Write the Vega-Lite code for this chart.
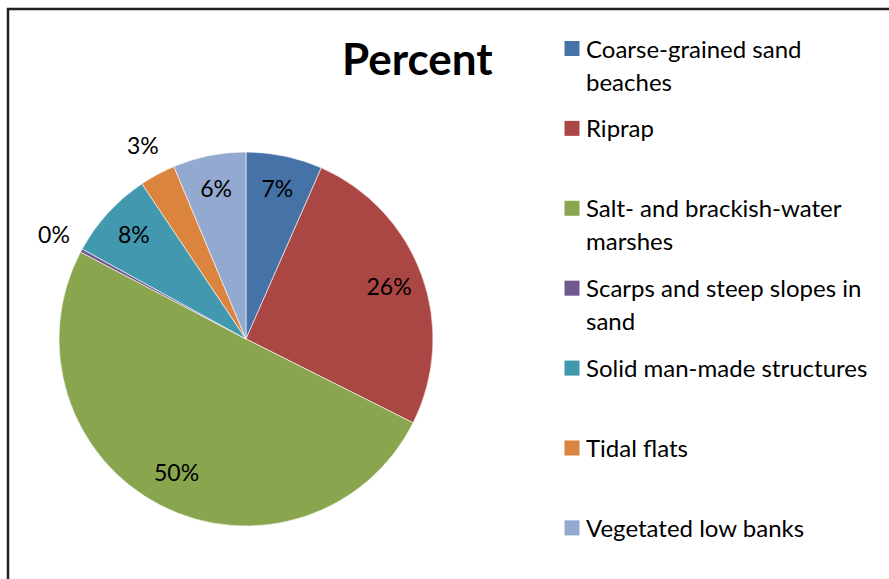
{
  "$schema": "https://vega.github.io/schema/vega-lite/v6.json",
  "width": 900,
  "height": 590,
  "autosize": {"type": "none"},
  "padding": {"left": 8, "top": 9, "right": 0, "bottom": 0},
  "background": "white",
  "view": {"stroke": "#231f20", "strokeWidth": 2.5, "fill": "white"},
  "title": {
    "text": "Percent",
    "anchor": "start",
    "frame": "group",
    "orient": "top",
    "offset": 0,
    "dx": 334,
    "dy": 110,
    "baseline": "alphabetic",
    "font": "Lato",
    "fontSize": 44,
    "fontWeight": "bold",
    "color": "#000000"
  },
  "config": {
    "view": {"stroke": "#231f20", "strokeWidth": 2.5},
    "font": "Lato",
    "style": {"guide-label": {"lineHeight": 33}}
  },
  "data": {
    "values": [
      {"category": "Coarse-grained sand beaches", "value": 0.066},
      {"category": "Riprap", "value": 0.258},
      {"category": "Salt- and brackish-water marshes", "value": 0.503},
      {"category": "Scarps and steep slopes in sand", "value": 0.003},
      {"category": "Solid man-made structures", "value": 0.076},
      {"category": "Tidal flats", "value": 0.031},
      {"category": "Vegetated low banks", "value": 0.063}
    ]
  },
  "layer": [
    {
      "mark": {"type": "arc", "x": 238, "y": 330, "outerRadius": 187, "stroke": "#ffffff", "strokeWidth": 0.6},
      "encoding": {
        "theta": {"field": "value", "type": "quantitative", "stack": true, "scale": {"type": "linear", "zero": true}},
        "order": {"field": "category", "type": "ordinal"},
        "color": {
          "field": "category",
          "type": "nominal",
          "scale": {
            "domain": ["Coarse-grained sand beaches", "Riprap", "Salt- and brackish-water marshes", "Scarps and steep slopes in sand", "Solid man-made structures", "Tidal flats", "Vegetated low banks"],
            "range": ["#4572A7", "#AA4643", "#89A54E", "#71588F", "#4198AF", "#DB843D", "#93A9CF"]
          },
          "legend": {
            "orient": "none",
            "legendX": 552,
            "legendY": 17.5,
            "title": null,
            "symbolType": "M-1,0.33H1V2.33H-1Z",
            "symbolSize": 225,
            "symbolStrokeWidth": 0,
            "symbolOpacity": 1,
            "labelFont": "Lato",
            "labelFontSize": 24,
            "labelColor": "#000000",
            "labelBaseline": "top",
            "labelOffset": 2,
            "labelLimit": 400,
            "gridAlign": "all",
            "rowPadding": 10.9,
            "labelExpr": "datum.label == 'Coarse-grained sand beaches' ? ['Coarse-grained sand', 'beaches'] : datum.label == 'Salt- and brackish-water marshes' ? ['Salt- and brackish-water', 'marshes'] : datum.label == 'Scarps and steep slopes in sand' ? ['Scarps and steep slopes in', 'sand'] : datum.label",
            "encode": {
              "labels": {"lineHeight": {"value": 33}}
            }
          }
        }
      }
    },
    {
      "mark": {"type": "text", "x": 238, "y": 330, "radius": 152, "font": "Lato", "fontSize": 23, "color": "#000000", "align": "center", "baseline": "middle"},
      "encoding": {
        "theta": {"field": "value", "type": "quantitative", "stack": true, "scale": {"type": "linear", "zero": true}},
        "order": {"field": "category", "type": "ordinal"},
        "detail": {"field": "category", "type": "nominal"},
        "text": {"field": "value", "type": "quantitative", "format": ".0%"},
        "opacity": {"condition": {"test": "datum.value >= 0.05", "value": 1}, "value": 0}
      }
    },
    {
      "mark": {"type": "text", "x": 238, "y": 330, "radius": 218, "font": "Lato", "fontSize": 23, "color": "#000000", "align": "center", "baseline": "middle"},
      "encoding": {
        "theta": {"field": "value", "type": "quantitative", "stack": true, "scale": {"type": "linear", "zero": true}},
        "order": {"field": "category", "type": "ordinal"},
        "detail": {"field": "category", "type": "nominal"},
        "text": {"field": "value", "type": "quantitative", "format": ".0%"},
        "opacity": {"condition": {"test": "datum.value < 0.05", "value": 1}, "value": 0}
      }
    }
  ]
}
